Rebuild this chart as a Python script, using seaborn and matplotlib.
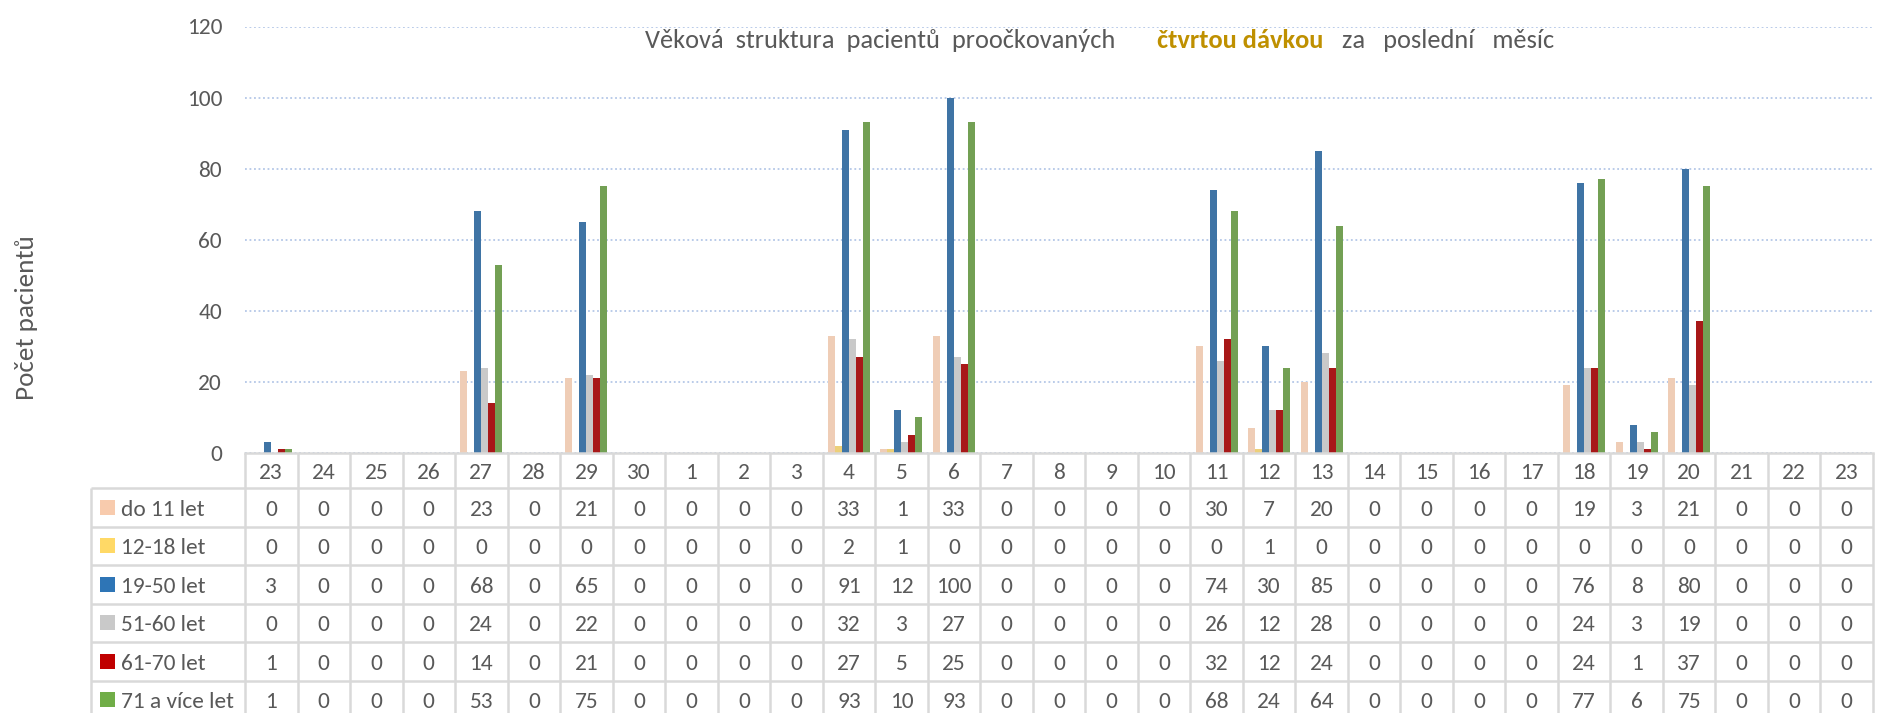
import pandas as pd
import seaborn as sns
import matplotlib.pyplot as plt
from matplotlib.patches import Rectangle

# data - dny za poslední měsíc
dny = ['23', '24', '25', '26', '27', '28', '29', '30', '1', '2', '3', '4', '5', '6', '7', '8',
       '9', '10', '11', '12', '13', '14', '15', '16', '17', '18', '19', '20', '21', '22', '23']
skupiny = ['do 11 let', '12-18 let', '19-50 let', '51-60 let', '61-70 let', '71 a více let']

do_11 = [0, 0, 0, 0, 23, 0, 21, 0, 0, 0, 0, 33, 1, 33, 0, 0, 0, 0, 30, 7, 20, 0, 0, 0, 0, 19, 3, 21, 0, 0, 0]
od_12_18 = [0, 0, 0, 0, 0, 0, 0, 0, 0, 0, 0, 2, 1, 0, 0, 0, 0, 0, 0, 1, 0, 0, 0, 0, 0, 0, 0, 0, 0, 0, 0]
od_19_50 = [3, 0, 0, 0, 68, 0, 65, 0, 0, 0, 0, 91, 12, 100, 0, 0, 0, 0, 74, 30, 85, 0, 0, 0, 0, 76, 8, 80, 0, 0, 0]
od_51_60 = [0, 0, 0, 0, 24, 0, 22, 0, 0, 0, 0, 32, 3, 27, 0, 0, 0, 0, 26, 12, 28, 0, 0, 0, 0, 24, 3, 19, 0, 0, 0]
od_61_70 = [1, 0, 0, 0, 14, 0, 21, 0, 0, 0, 0, 27, 5, 25, 0, 0, 0, 0, 32, 12, 24, 0, 0, 0, 0, 24, 1, 37, 0, 0, 0]
od_71 = [1, 0, 0, 0, 53, 0, 75, 0, 0, 0, 0, 93, 10, 93, 0, 0, 0, 0, 68, 24, 64, 0, 0, 0, 0, 77, 6, 75, 0, 0, 0]
serie = [do_11, od_12_18, od_19_50, od_51_60, od_61_70, od_71]

# titulek po částech (text, barva, tučně, začátek v px)
titulek = [('Věková  struktura  pacientů  proočkovaných', '#595959', False, 645),
           ('čtvrtou dávkou', '#BF9000', True, 1157),
           ('za   poslední   měsíc', '#595959', False, 1342)]

barvy = ['#F8CBAD', '#FFD966', '#2E75B6', '#C9C9C9', '#C00000', '#70AD47']
seda = '#595959'
cara_barva = '#D9D9D9'

sns.set_theme(style='white')
plt.rcParams['font.family'] = ['Carlito', 'DejaVu Sans']

# dlouhý formát pro seaborn
radky = []
for skupina, hodnoty in zip(skupiny, serie):
    for i, v in enumerate(hodnoty):
        radky.append({'den': i, 'skupina': skupina, 'pocet': v})
df = pd.DataFrame(radky)

W, H = 1889, 713
fig = plt.figure(figsize=(W / 100, H / 100), dpi=100)
ax = fig.add_axes([245 / W, 1 - 453 / H, 1628 / W, 426.5 / H])

sns.barplot(data=df, x='den', y='pocet', hue='skupina', hue_order=skupiny,
            palette=dict(zip(skupiny, barvy)), width=0.8, linewidth=0,
            errorbar=None, legend=False, ax=ax)

vel = 16.8
ax.set_yticks(range(0, 121, 20))
ax.yaxis.grid(True, color='#B4C7E7', linestyle=(0, (1, 1.5)), linewidth=1.3)
ax.set_axisbelow(True)
ax.set_xticks([])
ax.set_xlabel('')
ax.set_ylabel('')
ax.tick_params(axis='y', length=0, pad=16.5, labelsize=vel, labelcolor=seda)
for s in ['top', 'right', 'left']:
    ax.spines[s].set_visible(False)
ax.spines['bottom'].set_color(cara_barva)
ax.spines['bottom'].set_linewidth(1.8)

fig.text(27 / W, 1 - 318 / H, 'Počet pacientů', rotation=90, ha='center', va='center',
         fontsize=19.5, color=seda)

# titulek
for text, barva, tucne, x in titulek:
    fig.text(x / W, 1 - 48.5 / H, text, fontsize=19, color=barva,
             fontweight='bold' if tucne else 'normal', ha='left', va='baseline')


# tabulka s daty pod grafem
def ay(py):
    return (453 - py) / 426.5


def axx(px):
    return (px - 245) / 1628


tr = ax.get_xaxis_transform()
hranice = [453, 488, 526.5, 565, 603.5, 642, 680.5, 719]
cara = dict(color=cara_barva, lw=1.8, clip_on=False, solid_capstyle='butt')

for i in range(len(dny) + 1):
    ax.plot([i - 0.5, i - 0.5], [ay(453), ay(719)], transform=tr, **cara)
for p in hranice[1:]:
    ax.plot([axx(91), 1], [ay(p), ay(p)], transform=ax.transAxes, **cara)
ax.plot([axx(91), axx(91)], [ay(488), ay(719)], transform=ax.transAxes, **cara)

pismo = dict(fontsize=vel, color=seda, va='baseline', clip_on=False)
for i, d in enumerate(dny):
    ax.text(i, ay(479), d, transform=tr, ha='center', **pismo)

for r, (skupina, hodnoty) in enumerate(zip(skupiny, serie)):
    stred = (hranice[r + 1] + hranice[r + 2]) / 2
    ax.add_patch(Rectangle((axx(100), ay(stred + 7.5)), 15 / 1628, 15 / 426.5,
                           facecolor=barvy[r], edgecolor='none',
                           transform=ax.transAxes, clip_on=False))
    ax.text(axx(121), ay(stred + 8.5), skupina, transform=ax.transAxes, ha='left', **pismo)
    for i, v in enumerate(hodnoty):
        ax.text(i, ay(stred + 8.5), str(v), transform=tr, ha='center', **pismo)

ax.set_xlim(-0.5, len(dny) - 0.5)
ax.set_ylim(0, 120)

fig.savefig('out.png', dpi=100)
